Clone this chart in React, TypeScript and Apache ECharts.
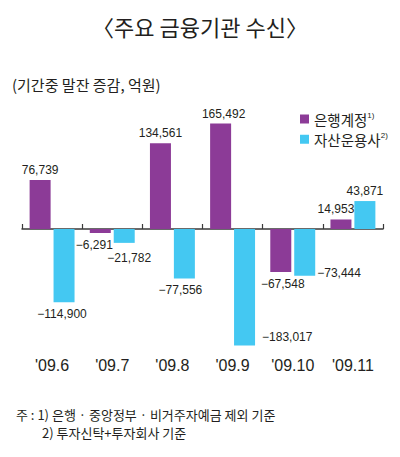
import React, { useEffect, useRef } from "react";
import * as echarts from "echarts";

const categories = ["'09.6", "'09.7", "'09.8", "'09.9", "'09.10", "'09.11"];
const bankAccount = [76739, -6291, 134561, 165492, -67548, 14953];
const assetManagers = [-114900, -21782, -77556, -183017, -73444, 43871];
const seriesNames = ["은행계정", "자산운용사"];
const seriesNotes = ["1)", "2)"];

const titleText = "〈주요 금융기관 수신〉";
const unitText = "(기간중 말잔 증감, 억원)";
const noteLine1 = "주 : 1) 은행 · 중앙정부 · 비거주자예금 제외 기준";
const noteLine2 = "2) 투자신탁+투자회사 기준";

const PURPLE = "#8c3b97";
const BLUE = "#44c8f2";
const TEXT = "#231f20";
const KR = "'Noto Sans CJK KR', 'Noto Sans', sans-serif";
const NUM = "'Liberation Sans Narrow', 'Liberation Sans', Arial, sans-serif";

const fmt = (v: number) => {
  const s = Math.abs(v).toLocaleString("en-US");
  return v < 0 ? "\u2212" + s : s;
};

// label placement tweaks (style only)
const bankOffsets: number[][] = [[0, 0], [-6, 0], [0, 0], [3, 0], [2, 0], [-5, 0]];
const assetOffsets: number[][] = [[-2, 0], [5, 3], [-4, 0], [0, 0], [0, 0], [0, 0]];

function labelFor(v: number, off: number[], special?: any) {
  if (special) return special;
  return {
    show: true,
    position: v >= 0 ? "top" : "bottom",
    distance: v >= 0 ? 4 : 6,
    offset: off,
  };
}

export default function App() {
  const ref = useRef<HTMLDivElement>(null);
  useEffect(() => {
    if (!ref.current) return;
    const chart = echarts.init(ref.current, undefined, { renderer: "svg" });
    const bankData = bankAccount.map((v, i) => ({
      value: v,
      label: labelFor(v, bankOffsets[i]),
    }));
    const assetData = assetManagers.map((v, i) => {
      let special: any = undefined;
      if (i === 3) {
        special = {
          show: true,
          position: ["100%", "100%"],
          align: "left",
          verticalAlign: "middle",
          offset: [7, -9],
        };
      } else if (i === 4) {
        special = {
          show: true,
          position: ["100%", "100%"],
          align: "left",
          verticalAlign: "middle",
          offset: [2, -3],
        };
      }
      return { value: v, label: labelFor(v, assetOffsets[i], special) };
    });
    const baseLabel = {
      show: true,
      formatter: (p: any) => fmt(p.value as number),
      fontFamily: NUM,
      fontSize: 12,
      color: TEXT,
    };
    chart.setOption({
      animation: false,
      backgroundColor: "#ffffff",
      title: {
        text: titleText,
        left: "center",
        top: 10,
        padding: [5, 5, 5, 11],
        textStyle: {
          fontFamily: KR,
          fontSize: 22,
          fontWeight: "normal",
          color: TEXT,
        },
      },
      legend: {
        orient: "vertical",
        left: 295,
        top: 106,
        itemWidth: 9,
        itemHeight: 9,
        itemGap: 5,
        icon: "rect",
        data: seriesNames,
        formatter: (name: string) => {
          const idx = seriesNames.indexOf(name);
          return "{a|" + name + "}{s|" + seriesNotes[idx] + "}";
        },
        textStyle: {
          color: TEXT,
          fontFamily: KR,
          fontSize: 14.5,
          rich: {
            a: { fontFamily: KR, fontSize: 14.5, color: TEXT, lineHeight: 16 },
            s: {
              fontFamily: NUM,
              fontSize: 8,
              color: TEXT,
              verticalAlign: "top",
              lineHeight: 16,
            },
          },
        },
      },
      grid: {
        left: 22,
        right: 17,
        top: 101.6,
        bottom: 100.6,
        containLabel: false,
        outerBoundsMode: "none",
      },
      xAxis: [
        {
          type: "category",
          data: categories,
          position: "bottom",
          axisLine: { onZero: true, lineStyle: { color: "#3a3a3a", width: 1.5 } },
          axisTick: { show: true, inside: true, length: 5, lineStyle: { color: "#3a3a3a", width: 1.2 } },
          axisLabel: { show: false },
          splitLine: { show: false },
        },
        {
          type: "category",
          data: categories,
          position: "bottom",
          axisLine: { show: false, onZero: false },
          axisTick: { show: false },
          axisLabel: {
            margin: 1,
            fontFamily: NUM,
            fontSize: 16,
            color: TEXT,
          },
          splitLine: { show: false },
        },
      ],
      yAxis: {
        type: "value",
        min: -200000,
        max: 200000,
        show: false,
        splitLine: { show: false },
      },
      series: [
        {
          name: seriesNames[0],
          type: "bar",
          xAxisIndex: 0,
          data: bankData,
          barWidth: 21,
          barGap: "14%",
          itemStyle: { color: PURPLE },
          label: baseLabel,
        },
        {
          name: seriesNames[1],
          type: "bar",
          xAxisIndex: 0,
          data: assetData,
          barWidth: 21,
          barGap: "14%",
          itemStyle: { color: BLUE },
          label: baseLabel,
        },
      ],
      graphic: [
        {
          type: "text",
          left: 12,
          top: 77,
          style: { text: unitText, font: "15px " + KR, fill: TEXT },
        },
        {
          type: "text",
          left: 16,
          top: 408,
          style: { text: noteLine1, font: "13px " + KR, fill: TEXT },
        },
        {
          type: "text",
          left: 42,
          top: 426,
          style: { text: noteLine2, font: "13px " + KR, fill: TEXT },
        },
      ],
    });
    return () => chart.dispose();
  }, []);
  return (
    <div
      ref={ref}
      style={{ position: "absolute", left: 0, top: 0, width: 400, height: 457, background: "#fff" }}
    />
  );
}
